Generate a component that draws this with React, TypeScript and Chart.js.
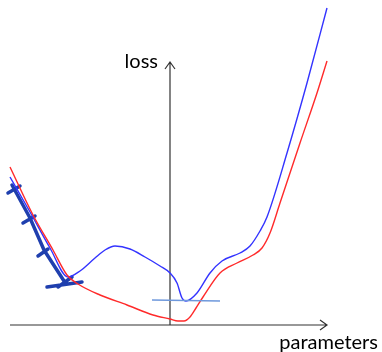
import React, { useEffect, useRef } from "react";
import { Chart, registerables } from "chart.js";

Chart.register(...registerables);

// Curve values in (parameter, loss) units; origin is where the axes cross
const redX = [-160, -137, -117, -103, -92, -70, -43, -17, 0, 8, 14, 20, 26, 33, 50, 67, 83, 92, 100, 110, 130, 147, 157];
const redY = [158, 110, 75, 50, 41, 30, 20, 10, 6, 4, 4, 8, 17, 28, 52, 62, 70, 77, 92, 122, 182, 232, 264];

const blueX = [-160, -140, -120, -102, -90, -75, -65, -55, -40, -25, -10, 0, 7, 12, 16, 27, 40, 52, 70, 80, 90, 97, 117, 137, 157];
const blueY = [148, 113, 77, 48, 54, 67, 75, 79, 76, 68, 59, 52, 42, 27, 24, 32, 52, 64, 72, 79, 94, 108, 172, 242, 317];

// hand-drawn pen strokes (null separates strokes)
const penX = [-158, -140, -126, -106, null, -162, -150, null, -147, -135, null, -132, -122, null, -123, -88, null, -112, -98];
const penY = [140, 107, 75, 44, null, 132, 139, null, 102, 109, null, 69, 76, null, 38, 43, null, 38, 48];

const levelX = [-18, 50];
const levelY = [25, 24];

const xLabel = "parameters";
const yLabel = "loss";

const toPts = (xs: (number | null)[], ys: (number | null)[]) =>
  xs.map((x, i) => ({ x: x as number, y: ys[i] as number }));

export default function App() {
  const ref = useRef<HTMLCanvasElement | null>(null);
  useEffect(() => {
    if (!ref.current) return;
    const axesPlugin = {
      id: "axesArrows",
      beforeDatasetsDraw(chart: any) {
        const { ctx, scales } = chart;
        const xs = scales.x, ys = scales.y;
        const x0 = xs.getPixelForValue(0);
        const y0 = ys.getPixelForValue(0);
        const xEnd = xs.getPixelForValue(157);
        const xStart = xs.getPixelForValue(-160);
        const yTop = ys.getPixelForValue(263);
        ctx.save();
        ctx.strokeStyle = "#333";
        ctx.lineWidth = 1.2;
        ctx.beginPath();
        ctx.moveTo(xStart, y0);
        ctx.lineTo(xEnd, y0);
        ctx.moveTo(xEnd - 7, y0 - 5);
        ctx.lineTo(xEnd, y0);
        ctx.lineTo(xEnd - 7, y0 + 5);
        ctx.moveTo(x0, y0);
        ctx.lineTo(x0, yTop);
        ctx.moveTo(x0 - 5, yTop + 7);
        ctx.lineTo(x0, yTop);
        ctx.lineTo(x0 + 5, yTop + 7);
        ctx.stroke();
        ctx.fillStyle = "#000";
        ctx.font = "20px Lato";
        ctx.textBaseline = "alphabetic";
        ctx.textAlign = "right";
        ctx.fillText(yLabel, x0 - 12, yTop + 6);
        ctx.fillText(xLabel, 378, y0 + 24);
        ctx.restore();
      },
    };
    const chart = new Chart(ref.current, {
      type: "line",
      data: {
        datasets: [
          {
            data: toPts(levelX, levelY),
            borderColor: "#6e98dc",
            borderWidth: 1.6,
            pointRadius: 0,
          },
          {
            data: toPts(redX, redY),
            borderColor: "#ff2a2a",
            borderWidth: 1.4,
            pointRadius: 0,
            cubicInterpolationMode: "monotone",
          },
          {
            data: toPts(blueX, blueY),
            borderColor: "#3333ff",
            borderWidth: 1.4,
            pointRadius: 0,
            cubicInterpolationMode: "monotone",
          },
          {
            data: toPts(penX, penY),
            borderColor: "#1f3fae",
            borderWidth: 3.5,
            pointRadius: 0,
            spanGaps: false,
            borderCapStyle: "round",
            borderJoinStyle: "round",
          },
        ],
      },
      options: {
        animation: false,
        responsive: false,
        events: [],
        layout: { padding: 0 },
        plugins: { legend: { display: false }, tooltip: { enabled: false } },
        scales: {
          x: { type: "linear", min: -170, max: 212, display: false },
          y: { type: "linear", min: -27, max: 325, display: false },
        },
      },
      plugins: [axesPlugin],
    } as any);
    return () => chart.destroy();
  }, []);
  return (
    <div style={{ position: "fixed", left: 0, top: 0, width: 382, height: 352, background: "#fff" }}>
      <canvas ref={ref} width={382} height={352} style={{ width: 382, height: 352 }} />
    </div>
  );
}
